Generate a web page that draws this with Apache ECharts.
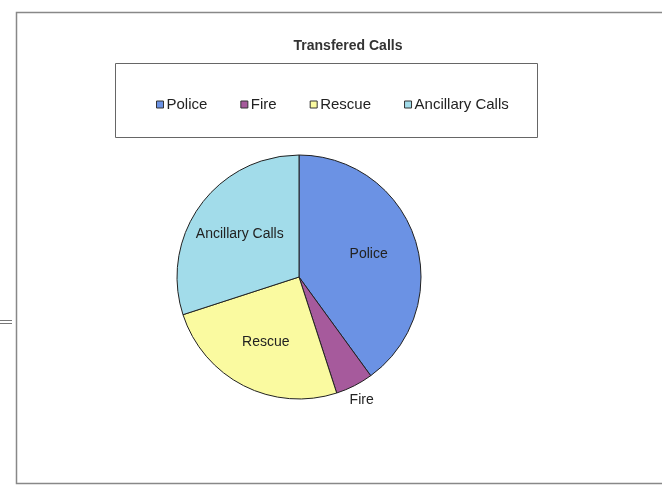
<!DOCTYPE html>
<html>
<head>
<meta charset="utf-8">
<script src="https://cdn.jsdelivr.net/npm/echarts@6/dist/echarts.min.js"></script>
<style>html,body{margin:0;padding:0;background:#fff;}#c{width:662px;height:492px;}</style>
</head>
<body>
<div id="c"></div>
<script>
const categories = ['Police', 'Fire', 'Rescue', 'Ancillary Calls'];
const values = [40, 5, 25, 30];
const colors = ['#6b92e4', '#a65a9c', '#fafaa0', '#a2dcea'];

const CX = 299, CY = 277, R = 122;
const total = values.reduce((a, b) => a + b, 0);
// mid angle of each slice (clockwise from 12 o'clock), derived from data
const midAngles = [];
{
  let acc = 0;
  values.forEach(v => { midAngles.push((acc + v / 2) / total * 2 * Math.PI); acc += v; });
}

const chart = echarts.init(document.getElementById('c'), null, {renderer: 'canvas'});
const data = categories.map((name, i) => ({
  name: name,
  value: values[i],
  itemStyle: {color: colors[i]}
}));

chart.setOption({
  animation: false,
  backgroundColor: '#ffffff',
  title: {
    text: 'Transfered Calls',
    left: 343, top: 34, textAlign: 'center',
    textStyle: {fontFamily: 'Liberation Sans, Arial, sans-serif', fontSize: 14, fontWeight: 'bold', color: '#333'}
  },
  legend: {
    left: 151, top: 92,
    itemWidth: 7, itemHeight: 7, itemGap: 33,
    icon: 'rect',
    itemStyle: {borderColor: '#333', borderWidth: 1},
    textStyle: {fontFamily: 'Liberation Sans, Arial, sans-serif', fontSize: 15, color: '#222', padding: [0, 0, 0, -2]},
    data: categories
  },
  graphic: [
    {type: 'rect', shape: {x: 16.5, y: 12.5, width: 700, height: 471}, style: {fill: 'none', stroke: '#888', lineWidth: 1.5}},
    {type: 'rect', shape: {x: 115.5, y: 63.5, width: 422, height: 74}, style: {fill: 'none', stroke: '#666', lineWidth: 1}},
    {type: 'line', shape: {x1: 0, y1: 320.5, x2: 12, y2: 320.5}, style: {stroke: '#777', lineWidth: 1}},
    {type: 'line', shape: {x1: 0, y1: 323.5, x2: 12, y2: 323.5}, style: {stroke: '#777', lineWidth: 1}}
  ],
  series: [{
    type: 'pie',
    center: [CX, CY],
    radius: R,
    startAngle: 90,
    clockwise: true,
    silent: true,
    itemStyle: {borderColor: '#222', borderWidth: 1},
    label: {
      show: true,
      position: 'inside',
      formatter: '{b}',
      fontFamily: 'Liberation Sans, Arial, sans-serif',
      fontSize: 14,
      color: '#222'
    },
    labelLine: {show: false},
    labelLayout: function (p) {
      const a = midAngles[p.dataIndex];
      const d = categories[p.dataIndex] === 'Fire' ? R + 16 : R * 0.6;
      return {
        x: CX + d * Math.sin(a),
        y: CY - d * Math.cos(a),
        align: 'center',
        verticalAlign: 'middle'
      };
    },
    data: data
  }]
});
</script>
</body>
</html>
